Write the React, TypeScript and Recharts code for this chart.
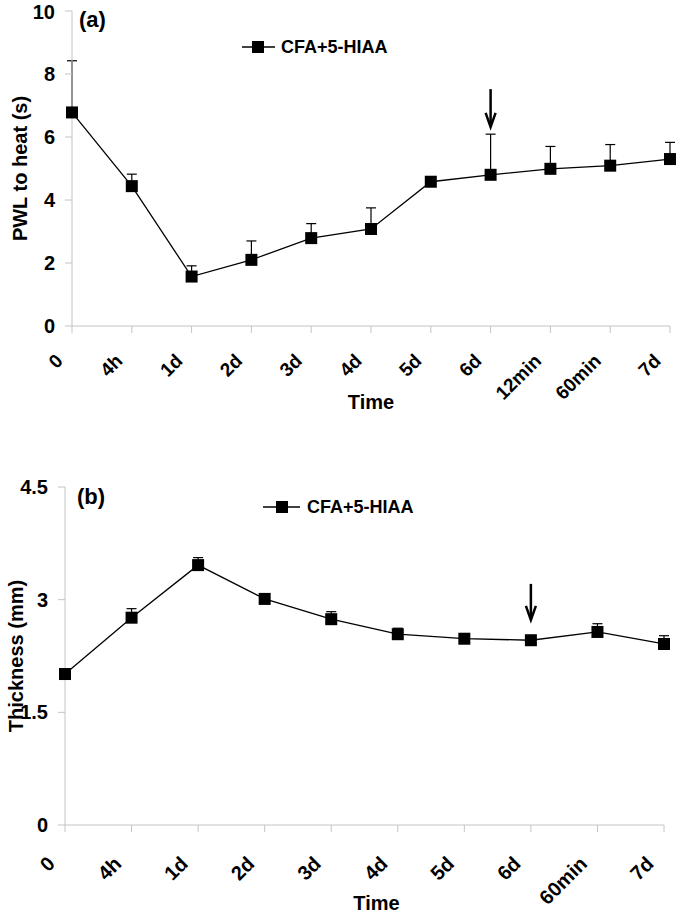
import React from "react";
import {
  ErrorBar,
  Legend,
  Line,
  LineChart,
  ReferenceLine,
  XAxis,
  YAxis,
} from "recharts";

const FONT = '"Liberation Sans", Arial, sans-serif';
const AXIS_GREY = "#c4c4c4";

// panel (a): paw withdrawal latency
const timeA = ["0", "4h", "1d", "2d", "3d", "4d", "5d", "6d", "12min", "60min", "7d"];
const pwlMean = [6.78, 4.44, 1.57, 2.1, 2.79, 3.08, 4.58, 4.8, 4.99, 5.09, 5.3];
const pwlErrUp = [1.64, 0.38, 0.34, 0.6, 0.46, 0.67, 0.05, 1.29, 0.71, 0.67, 0.53];
const pwlTicks = [0, 2, 4, 6, 8, 10];

// panel (b): paw thickness
const timeB = ["0", "4h", "1d", "2d", "3d", "4d", "5d", "6d", "60min", "7d"];
const thickMean = [2.01, 2.76, 3.46, 3.01, 2.74, 2.54, 2.48, 2.46, 2.57, 2.41];
const thickErrUp = [0.03, 0.12, 0.1, 0.07, 0.1, 0.08, 0.05, 0.03, 0.11, 0.11];
const thickTicks = [0, 1.5, 3, 4.5];

const SERIES_NAME = "CFA+5-HIAA";

const dataA = timeA.map((t, i) => ({ t, v: pwlMean[i], err: [0, pwlErrUp[i]] }));
const dataB = timeB.map((t, i) => ({ t, v: thickMean[i], err: [0, thickErrUp[i]] }));

/** Rotated (-45deg) bold category labels. */
function SlantTick(props: any) {
  const { x, y, payload, size = 18, offX = -8, offY = 27 } = props;
  return (
    <g transform={`translate(${x + offX},${y + offY}) rotate(-45)`}>
      <text
        x={0}
        y={0}
        textAnchor="end"
        fill="#000"
        fontFamily={FONT}
        fontWeight="bold"
        fontSize={size}
      >
        {payload.value}
      </text>
    </g>
  );
}

function SquareDot(props: any) {
  const { cx, cy, index } = props;
  if (cx == null || cy == null) return <g key={index} />;
  return <rect key={index} x={cx - 6} y={cy - 6} width={12} height={12} fill="#000" />;
}

/** Downward arrow drawn on a reference segment. */
function ArrowShape(props: any) {
  const { x1, y1, x2, y2 } = props;
  return (
    <g>
      <line x1={x1} y1={y1} x2={x2} y2={y2 - 1} stroke="#000" strokeWidth={2.5} />
      <polyline
        points={`${x2 - 5},${y2 - 14} ${x2},${y2} ${x2 + 5},${y2 - 14}`}
        fill="none"
        stroke="#000"
        strokeWidth={2.5}
      />
    </g>
  );
}

function legendContent(lineWidth: number, markerX: number, gap: number) {
  return () => (
    <div
      style={{
        display: "flex",
        alignItems: "center",
        fontFamily: FONT,
        fontWeight: "bold",
        fontSize: 18,
        lineHeight: "20px",
        color: "#000",
        whiteSpace: "nowrap",
      }}
    >
      <svg width={lineWidth} height={14} style={{ display: "block" }}>
        <line x1={0} y1={7} x2={lineWidth} y2={7} stroke="#000" strokeWidth={1.3} />
        <rect x={markerX} y={1} width={12} height={12} fill="#000" />
      </svg>
      <span style={{ marginLeft: gap }}>{SERIES_NAME}</span>
    </div>
  );
}

const tickStyle = { fill: "#000", fontSize: 20, fontWeight: "bold", fontFamily: FONT };
const titleStyle = { fill: "#000", fontSize: 20, fontWeight: "bold", fontFamily: FONT };

const panelLabel: React.CSSProperties = {
  position: "absolute",
  fontFamily: FONT,
  fontWeight: "bold",
  fontSize: 22,
  lineHeight: "22px",
  color: "#000",
};

export default function App() {
  return (
    <div
      style={{
        position: "absolute",
        left: 0,
        top: 0,
        width: 685,
        height: 924,
        background: "#fff",
        overflow: "hidden",
      }}
    >
      {/* (a) PWL to heat */}
      <div style={{ position: "absolute", left: 0, top: 0 }}>
        <LineChart width={685} height={420} data={dataA} margin={{ top: 11, right: 15, left: 0, bottom: 0 }}>
          <XAxis
            dataKey="t"
            interval={0}
            height={94}
            tickSize={7}
            tick={<SlantTick size={19} offX={-8} offY={27} />}
            axisLine={{ stroke: AXIS_GREY }}
            tickLine={{ stroke: AXIS_GREY }}
            label={{ value: "Time", position: "insideBottom", offset: 11, style: titleStyle }}
          />
          <YAxis
            type="number"
            domain={[0, 10]}
            ticks={pwlTicks}
            width={72}
            tickSize={7}
            tickMargin={10}
            tick={tickStyle}
            axisLine={{ stroke: AXIS_GREY }}
            tickLine={{ stroke: AXIS_GREY }}
            label={{
              value: "PWL to heat (s)",
              angle: -90,
              position: "insideLeft",
              offset: 20,
              style: { ...titleStyle, textAnchor: "middle" },
            }}
          />
          <Legend
            layout="horizontal"
            verticalAlign="middle"
            align="center"
            wrapperStyle={{ top: 37, left: 242, width: "auto", height: "auto" }}
            content={legendContent(33, 10, 6)}
          />
          <ReferenceLine
            segment={[
              { x: "6d", y: 7.52 },
              { x: "6d", y: 6.32 },
            ]}
            shape={<ArrowShape />}
          />
          <Line
            dataKey="v"
            name={SERIES_NAME}
            type="linear"
            stroke="#000"
            strokeWidth={1.3}
            dot={SquareDot}
            activeDot={false}
            isAnimationActive={false}
          >
            <ErrorBar dataKey="err" direction="y" width={5} stroke="#000" strokeWidth={1.2} />
          </Line>
        </LineChart>
        <div style={{ ...panelLabel, left: 79, top: 9 }}>(a)</div>
      </div>

      {/* (b) Thickness */}
      <div style={{ position: "absolute", left: 0, top: 440 }}>
        <LineChart width={685} height={484} data={dataB} margin={{ top: 47, right: 21, left: 0, bottom: 0 }}>
          <XAxis
            dataKey="t"
            interval={0}
            height={99}
            tickSize={7}
            tick={<SlantTick size={20} offX={-9} offY={31} />}
            axisLine={{ stroke: AXIS_GREY }}
            tickLine={{ stroke: AXIS_GREY }}
            label={{ value: "Time", position: "insideBottom", offset: 14, dx: 12, style: titleStyle }}
          />
          <YAxis
            type="number"
            domain={[0, 4.5]}
            ticks={thickTicks}
            width={65}
            tickSize={7}
            tickMargin={10}
            tick={tickStyle}
            axisLine={{ stroke: AXIS_GREY }}
            tickLine={{ stroke: AXIS_GREY }}
            label={{
              value: "Thickness (mm)",
              angle: -90,
              position: "insideLeft",
              offset: 16,
              style: { ...titleStyle, textAnchor: "middle" },
            }}
          />
          <Legend
            layout="horizontal"
            verticalAlign="middle"
            align="center"
            wrapperStyle={{ top: 57, left: 263, width: "auto", height: "auto" }}
            content={legendContent(37, 13, 7)}
          />
          <ReferenceLine
            segment={[
              { x: "6d", y: 3.21 },
              { x: "6d", y: 2.73 },
            ]}
            shape={<ArrowShape />}
          />
          <Line
            dataKey="v"
            name={SERIES_NAME}
            type="linear"
            stroke="#000"
            strokeWidth={1.3}
            dot={SquareDot}
            activeDot={false}
            isAnimationActive={false}
          >
            <ErrorBar dataKey="err" direction="y" width={5} stroke="#000" strokeWidth={1.2} />
          </Line>
        </LineChart>
        <div style={{ ...panelLabel, left: 77, top: 46 }}>(b)</div>
      </div>
    </div>
  );
}
